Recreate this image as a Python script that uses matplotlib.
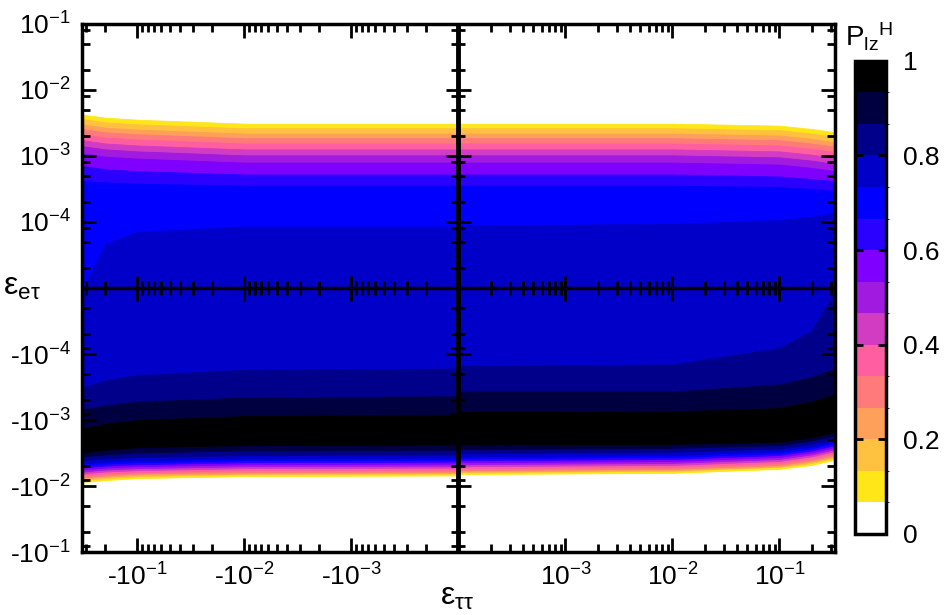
import numpy as np
import matplotlib
matplotlib.use("Agg")
import matplotlib.pyplot as plt
from matplotlib.colors import ListedColormap, BoundaryNorm
from matplotlib.scale import FuncScale
from matplotlib.ticker import FixedLocator, NullFormatter, FixedFormatter
import matplotlib.cm as cm

plt.rcParams.update({
    "font.family": ["Liberation Sans", "DejaVu Sans"],
    "mathtext.default": "regular",
    "font.size": 19,
})

# |eps_tt| sample points, as log10|x|
x_exp = [-4.0, -2.0, -1.0, -0.7, -0.48]

# contour boundaries, stored as "decades" above/below the y-centre (+-1e-5)
# rows: levels 1/15 .. 14/15 ; cols: x_exp
left_upper = [
    [2.49, 2.49, 2.55, 2.58, 2.63],
    [2.42, 2.42, 2.48, 2.51, 2.56],
    [2.34, 2.34, 2.40, 2.43, 2.48],
    [2.27, 2.27, 2.33, 2.36, 2.41],
    [2.19, 2.19, 2.25, 2.28, 2.33],
    [2.10, 2.10, 2.16, 2.19, 2.24],
    [2.01, 2.01, 2.07, 2.10, 2.15],
    [1.90, 1.90, 1.96, 1.99, 2.04],
    [1.72, 1.72, 1.77, 1.80, 1.85],
    [1.55, 1.55, 1.58, 1.60, 1.62],
    [0.93, 0.93, 0.85, 0.67, -0.05],
    [-1.22, -1.24, -1.32, -1.40, -1.51],
    [-1.64, -1.66, -1.72, -1.78, -1.84],
    [-1.92, -1.94, -2.00, -2.06, -2.13],
]
left_lower = [
    [-2.84, -2.85, -2.88, -2.91, -2.94],
    [-2.81, -2.82, -2.85, -2.88, -2.91],
    [-2.80, -2.81, -2.83, -2.86, -2.89],
    [-2.78, -2.79, -2.81, -2.84, -2.87],
    [-2.75, -2.76, -2.79, -2.81, -2.84],
    [-2.72, -2.73, -2.76, -2.78, -2.81],
    [-2.69, -2.70, -2.73, -2.75, -2.78],
    [-2.66, -2.67, -2.70, -2.72, -2.75],
    [-2.63, -2.64, -2.67, -2.69, -2.72],
    [-2.60, -2.61, -2.64, -2.66, -2.69],
    [-2.57, -2.58, -2.61, -2.63, -2.66],
    [-2.52, -2.53, -2.56, -2.58, -2.61],
    [-2.45, -2.46, -2.49, -2.52, -2.55],
    [-2.37, -2.38, -2.41, -2.45, -2.49],
]
right_upper = [
    [2.49, 2.49, 2.46, 2.41, 2.36],
    [2.42, 2.42, 2.39, 2.34, 2.29],
    [2.34, 2.34, 2.31, 2.26, 2.21],
    [2.27, 2.27, 2.24, 2.19, 2.14],
    [2.19, 2.19, 2.16, 2.11, 2.06],
    [2.10, 2.10, 2.07, 2.02, 1.97],
    [2.01, 2.01, 1.98, 1.93, 1.88],
    [1.90, 1.90, 1.87, 1.82, 1.77],
    [1.72, 1.72, 1.69, 1.65, 1.62],
    [1.55, 1.55, 1.53, 1.50, 1.47],
    [0.95, 0.97, 1.03, 1.08, 1.14],
    [-1.18, -1.16, -0.91, -0.65, -0.05],
    [-1.57, -1.57, -1.46, -1.35, -1.22],
    [-1.88, -1.87, -1.82, -1.72, -1.61],
]
right_lower = [
    [-2.82, -2.80, -2.74, -2.68, -2.60],
    [-2.79, -2.77, -2.71, -2.65, -2.57],
    [-2.78, -2.76, -2.70, -2.63, -2.55],
    [-2.76, -2.74, -2.68, -2.61, -2.53],
    [-2.73, -2.71, -2.65, -2.58, -2.50],
    [-2.70, -2.68, -2.62, -2.55, -2.47],
    [-2.67, -2.65, -2.59, -2.52, -2.44],
    [-2.64, -2.62, -2.56, -2.49, -2.41],
    [-2.61, -2.59, -2.53, -2.46, -2.38],
    [-2.58, -2.56, -2.50, -2.43, -2.35],
    [-2.55, -2.53, -2.47, -2.40, -2.32],
    [-2.50, -2.48, -2.43, -2.36, -2.28],
    [-2.44, -2.42, -2.38, -2.31, -2.23],
    [-2.37, -2.36, -2.33, -2.26, -2.18],
]

band_colors = ["#FFFFFF", "#FFE619", "#FFC13F", "#FFA05A", "#FF7B7B", "#FF5FA0",
               "#D23CC3", "#A01AE0", "#7F00FF", "#2A00FF", "#0000FF", "#0000C8",
               "#00008B", "#000040", "#000000"]
levels = np.linspace(0, 1, 16)

x_major = [-1e-1, -1e-2, -1e-3, 1e-3, 1e-2, 1e-1]
x_labels = ["-10$^{-1}$", "-10$^{-2}$", "-10$^{-3}$", "10$^{-3}$", "10$^{-2}$", "10$^{-1}$"]
y_major = [1e-1, 1e-2, 1e-3, 1e-4, -1e-4, -1e-3, -1e-2, -1e-1]
y_labels = ["10$^{-1}$", "10$^{-2}$", "10$^{-3}$", "10$^{-4}$",
            "-10$^{-4}$", "-10$^{-3}$", "-10$^{-2}$", "-10$^{-1}$"]


def fx(x):
    x = np.asarray(x, dtype=float)
    with np.errstate(divide="ignore", invalid="ignore"):
        return np.sign(x) * np.maximum(np.log10(np.abs(x)) + 4, 0)


def fx_inv(u):
    u = np.asarray(u, dtype=float)
    return np.sign(u) * 10 ** (np.abs(u) - 4)


def fy(y):
    y = np.asarray(y, dtype=float)
    with np.errstate(divide="ignore", invalid="ignore"):
        return np.sign(y) * np.maximum(np.log10(np.abs(y)) + 5, 0)


def fy_inv(v):
    v = np.asarray(v, dtype=float)
    return np.sign(v) * 10 ** (np.abs(v) - 5)


def to_y(rows):
    return [fy_inv(r) for r in rows]


fig = plt.figure(figsize=(9.5, 6.15), dpi=100)
ax = fig.add_axes([0.0863, 0.1024, 0.7926, 0.8586])
ax.set_xscale(FuncScale(ax, (fx, fx_inv)))
ax.set_yscale(FuncScale(ax, (fy, fy_inv)))

xl = -10 ** np.array(x_exp)
xr = 10 ** np.array(x_exp)
for xs, up, lo in [(xl, left_upper, left_lower), (xr, right_upper, right_lower)]:
    up_y = to_y(up)
    lo_y = to_y(lo)
    for k in range(14):
        ax.fill_between(xs, lo_y[k], up_y[k], color=band_colors[k + 1], lw=0.6,
                        edgecolor=band_colors[k + 1])

ax.set_xlim(-0.33, 0.33)
ax.set_ylim(-0.1, 0.1)

# minor ticks
x_minor = []
for n in range(-4, 0):
    for m in range(2, 10):
        v = m * 10.0 ** n
        if v < 0.33:
            x_minor += [v, -v]
y_minor = []
for n in range(-5, -1):
    for m in (2, 5, 8):
        y_minor += [m * 10.0 ** n, -m * 10.0 ** n]

ax.xaxis.set_major_locator(FixedLocator(x_major))
ax.xaxis.set_major_formatter(FixedFormatter(x_labels))
ax.xaxis.set_minor_locator(FixedLocator(x_minor))
ax.xaxis.set_minor_formatter(NullFormatter())
ax.yaxis.set_major_locator(FixedLocator(y_major))
ax.yaxis.set_major_formatter(FixedFormatter(y_labels))
ax.yaxis.set_minor_locator(FixedLocator(y_minor))
ax.yaxis.set_minor_formatter(NullFormatter())
ax.tick_params(which="both", direction="in", top=True, right=True, width=2)
ax.tick_params(which="major", length=10, pad=8, labelsize=19)
ax.tick_params(which="minor", length=6)
for s in ax.spines.values():
    s.set_linewidth(2.5)

# centre lines with crossing ticks
ax.axhline(0, color="black", lw=2.5, zorder=5)
ax.axvline(0, color="black", lw=3.5, zorder=5)
ax.plot(x_major, np.zeros(len(x_major)), ls="none", marker="|", ms=18, mew=2, color="black", zorder=6)
ax.plot(x_minor, np.zeros(len(x_minor)), ls="none", marker="|", ms=10, mew=2, color="black", zorder=6)
ax.plot(np.zeros(len(y_major)), y_major, ls="none", marker="_", ms=18, mew=2, color="black", zorder=6)
ax.plot(np.zeros(len(y_minor)), y_minor, ls="none", marker="_", ms=10, mew=2, color="black", zorder=6)

fig.text(0.003, 0.533, r"$\varepsilon_{e\tau}$", fontsize=23, ha="left", va="center")
fig.text(0.481, 0.005, r"$\varepsilon_{\tau\tau}$", fontsize=23, ha="center", va="bottom")

# colour bar
cmap = ListedColormap(band_colors)
norm = BoundaryNorm(levels, cmap.N)
cax = fig.add_axes([0.9, 0.132, 0.033, 0.769])
cb = fig.colorbar(cm.ScalarMappable(norm=norm, cmap=cmap), cax=cax, ticks=[0, 0.2, 0.4, 0.6, 0.8, 1])
cb.ax.set_yticklabels(["0", "0.2", "0.4", "0.6", "0.8", "1"])
cb.ax.tick_params(direction="in", left=True, right=True, length=6, width=2, labelsize=19, pad=12)
cb.outline.set_linewidth(2.5)
fig.text(0.915, 0.94, r"P$_{lz}$$^{H}$", fontsize=20, ha="center", va="center")

fig.savefig("out.png", dpi=100)
